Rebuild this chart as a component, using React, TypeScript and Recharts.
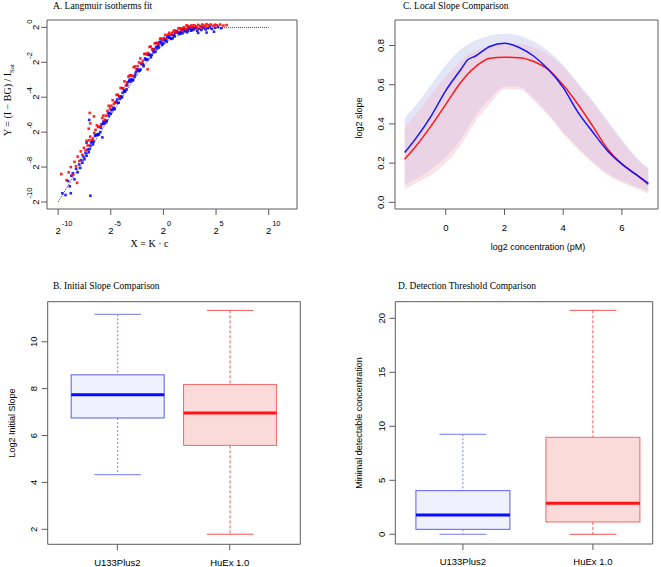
import React from 'react'
import {
  ScatterChart,
  Scatter,
  ComposedChart,
  Area,
  Line,
  Bar,
  XAxis,
  YAxis,
  ReferenceArea,
} from 'recharts'

const SANS = '"Liberation Sans", Arial, sans-serif'
const SERIF = '"Liberation Serif", "Times New Roman", serif'
const FRAME = '#5c5c5c'

// ---- A. Langmuir isotherms fit (log2 X, log2 Y) ----
const FIT_X = [-10, -9, -8, -7, -6, -5, -4, -3, -2, -1.5, -1, -0.5, 0, 0.5, 1, 1.5, 2, 2.5, 3, 4, 5, 6, 8, 10]
const FIT_Y = [-10, -9, -8.01, -7.01, -6.02, -5.04, -4.09, -3.17, -2.32, -1.94, -1.58, -1.27, -1, -0.77, -0.58, -0.44, -0.32, -0.24, -0.17, -0.09, -0.04, -0.02, -0.01, 0]

const BLUE_PTS: [number, number][] = [
  // lower tail
  [-9.6, -9.5], [-9.3, -9.6], [-9.05, -8.8], [-8.9, -9.1], [-8.75, -8.5], [-8.6, -8.35], [-8.45, -8.7],
  [-8.3, -8.1], [-8.15, -8.3], [-8.0, -7.85], [-7.9, -8.05], [-7.8, -7.6], [-7.7, -7.75], [-7.6, -7.4],
  [-7.5, -7.55], [-7.4, -7.2], [-7.3, -7.35], [-7.2, -7.0], [-7.1, -7.15], [-6.94, -9.64], [-7.05, -5.3],
  [-8.8, -9.5], [-7.3, -6.6], [-5.8, -6.3],
  // main band
  [-7, -6.96], [-6.75, -6.54], [-6.5, -6.21], [-6.25, -6.15], [-6, -6.0], [-5.75, -5.51], [-5.5, -5.36],
  [-5.25, -4.93], [-5, -4.95], [-4.75, -4.6], [-4.5, -4.26], [-4.25, -4.32], [-4, -3.95], [-3.75, -3.6],
  [-3.5, -3.55], [-3.25, -3.06], [-3, -2.98], [-2.75, -2.84], [-2.5, -2.45], [-2.25, -2.48], [-2, -2.09],
  [-1.75, -1.78], [-1.5, -1.84], [-1.25, -1.58], [-1, -1.3], [-0.75, -1.39], [-0.5, -1.06], [-0.25, -0.81],
  [0, -0.92], [0.25, -0.72], [0.5, -0.51], [0.75, -0.66], [1, -0.455], [1.25, -0.21], [1.5, -0.38],
  [1.75, -0.18], [2, -0.22], [2.25, -0.28], [2.5, -0.09], [2.75, -0.15], [3, -0.05],
  [-6.88, -6.59], [-6.63, -6.54], [-6.38, -6.15], [-6.13, -6.13], [-5.88, -5.56], [-5.63, -5.51],
  [-5.38, -5.35], [-5.13, -4.89], [-4.88, -4.73], [-4.63, -4.68], [-4.38, -4.13], [-4.13, -4.08],
  [-3.88, -3.75], [-3.63, -3.66], [-3.38, -3.14], [-3.13, -3.11], [-2.88, -3.02], [-2.63, -2.58],
  [-2.38, -2.5], [-2.13, -2.09], [-1.88, -2.22], [-1.63, -1.83], [-1.38, -1.56], [-1.13, -1.58],
  [-0.88, -1.26], [-0.63, -1.21], [-0.38, -0.85], [-0.13, -1.01], [0.12, -0.75], [0.37, -0.54],
  [0.62, -0.61], [0.87, -0.63], [1.12, -0.32], [1.37, -0.31], [1.62, -0.34], [1.87, -0.1], [2.12, -0.18],
  [2.37, -0.06], [2.62, -0.19], [2.87, -0.05],
  [-6.94, -6.77], [-6.69, -6.7], [-6.44, -6.18], [-6.19, -6.11], [-5.94, -5.75], [-5.69, -5.39],
  [-5.44, -5.43], [-5.19, -5.08], [-4.94, -4.73], [-4.69, -4.67], [-4.44, -4.31], [-4.19, -3.96],
  [-3.94, -4.01], [-3.69, -3.68], [-3.44, -3.32], [-3.19, -2.99], [-2.94, -3.02], [-2.69, -2.72],
  [-2.44, -2.41], [-2.19, -2.42], [-1.94, -2.13], [-1.69, -1.86], [-1.44, -1.58], [-1.19, -1.71],
  [-0.94, -1.43], [-0.69, -1.12], [-0.44, -1.15], [-0.19, -0.92], [0.06, -0.68], [0.31, -0.82],
  [0.56, -0.6], [0.81, -0.44], [1.06, -0.51], [1.31, -0.25], [1.56, -0.29], [1.81, -0.34], [2.06, -0.14],
  [2.31, -0.18], [2.56, -0.02], [2.81, -0.09],
  // upper tail
  [3.2, -0.2], [3.4, -0.08], [3.6, -0.15], [3.8, -0.03], [4.0, -0.12], [4.2, -0.05], [4.4, 0.01],
  [4.6, -0.09], [4.9, -0.02], [5.2, 0.02], [5.5, -0.05], [3.3, -0.32], [4.1, -0.3], [4.8, -0.25],
  [3.1, 0.0], [3.7, 0.02],
]

const RED_PTS: [number, number][] = [
  // lower tail
  [-9.7, -8.4], [-9.2, -8.75], [-9.0, -8.3], [-8.8, -8.0], [-8.6, -8.45], [-8.45, -7.7], [-8.3, -7.95],
  [-8.15, -7.4], [-8.0, -7.65], [-7.85, -7.1], [-7.7, -7.3], [-7.55, -6.9], [-7.4, -7.05], [-7.3, -6.5],
  [-7.0, -4.9], [-6.95, -5.5], [-7.1, -5.8], [-8.2, -8.9], [-1.5, -2.4], [-6.6, -5.1],
  // main band
  [-7.2, -6.76], [-6.95, -6.26], [-6.7, -6.37], [-6.45, -5.87], [-6.2, -5.7], [-5.95, -5.65], [-5.7, -5.05],
  [-5.45, -5.06], [-5.2, -4.49], [-4.95, -4.49], [-4.7, -4.37], [-4.45, -3.87], [-4.2, -3.98], [-3.95, -3.48],
  [-3.7, -3.09], [-3.45, -3.17], [-3.2, -2.75], [-2.95, -2.78], [-2.7, -2.24], [-2.45, -2.22], [-2.2, -1.78],
  [-1.95, -1.92], [-1.7, -1.51], [-1.45, -1.47], [-1.2, -1.1], [-0.95, -1.24], [-0.7, -0.89], [-0.45, -0.96],
  [-0.2, -0.64], [0.05, -0.61], [0.3, -0.64], [0.55, -0.31], [0.8, -0.35], [1.05, -0.17], [1.3, -0.24],
  [1.55, -0.05], [1.8, -0.07], [2.05, -0.09], [2.3, 0.08], [2.55, 0.04], [2.8, 0.01],
  [-7.07, -6.46], [-6.82, -6.45], [-6.57, -6.04], [-6.32, -5.61], [-6.07, -5.69], [-5.82, -5.19],
  [-5.57, -5.29], [-5.32, -4.78], [-5.07, -4.65], [-4.82, -4.17], [-4.57, -4.29], [-4.32, -3.86],
  [-4.07, -3.47], [-3.82, -3.49], [-3.57, -3.33], [-3.32, -2.82], [-3.07, -2.75], [-2.82, -2.28],
  [-2.57, -2.4], [-2.32, -2.01], [-2.07, -2.05], [-1.82, -1.53], [-1.57, -1.55], [-1.32, -1.12],
  [-1.07, -1.26], [-0.82, -0.92], [-0.57, -0.91], [-0.32, -0.65], [-0.07, -0.75], [0.18, -0.43],
  [0.43, -0.42], [0.68, -0.43], [0.93, -0.25], [1.18, -0.29], [1.43, -0.06], [1.68, -0.1], [1.93, 0.0],
  [2.18, 0.11], [2.43, 0.01], [2.68, 0.12], [2.93, 0.12],
  // upper tail
  [3.1, 0.05], [3.3, 0.14], [3.5, 0.08], [3.7, 0.16], [3.9, 0.1], [4.1, 0.18], [4.3, 0.12], [4.5, 0.16],
  [4.7, 0.09], [4.9, 0.15], [5.1, 0.12], [5.4, 0.16], [5.7, 0.1], [6.0, 0.13], [3.2, -0.05], [3.6, 0.0],
  [4.0, 0.03], [2.2, -0.12], [1.7, -0.2],
]

const A_XDOM: [number, number] = [-11.06, 12.69]
const A_YDOM: [number, number] = [-10.4, 0.42]
const A_XTICKS = [-10, -5, 0, 5, 10]
const A_YTICKS = [-10, -8, -6, -4, -2, 0]

// ---- C. Local Slope Comparison ----
const C_X = [-1.4, -1, -0.5, 0, 0.5, 0.75, 1, 1.5, 2, 2.5, 3, 3.5, 4, 4.5, 5, 5.5, 6, 6.5, 6.9]
const C_BLUE = [0.254, 0.33, 0.44, 0.57, 0.675, 0.727, 0.745, 0.795, 0.812, 0.79, 0.745, 0.677, 0.585, 0.46, 0.36, 0.265, 0.195, 0.14, 0.097]
const C_RED = [0.22, 0.29, 0.39, 0.5, 0.61, 0.655, 0.69, 0.735, 0.74, 0.738, 0.718, 0.676, 0.598, 0.5, 0.39, 0.275, 0.196, 0.14, 0.092]
const C_BLUE_HI = [0.43, 0.5, 0.6, 0.7, 0.78, 0.805, 0.825, 0.85, 0.86, 0.85, 0.82, 0.77, 0.7, 0.61, 0.52, 0.42, 0.32, 0.23, 0.175]
const C_BLUE_LO = [0.09, 0.12, 0.17, 0.23, 0.32, 0.38, 0.44, 0.53, 0.59, 0.59, 0.53, 0.45, 0.36, 0.28, 0.21, 0.15, 0.11, 0.08, 0.06]
const C_RED_HI = [0.38, 0.45, 0.55, 0.64, 0.72, 0.75, 0.77, 0.8, 0.81, 0.81, 0.79, 0.75, 0.69, 0.6, 0.51, 0.41, 0.31, 0.22, 0.17]
const C_RED_LO = [0.065, 0.1, 0.14, 0.2, 0.29, 0.35, 0.41, 0.5, 0.575, 0.575, 0.52, 0.44, 0.35, 0.27, 0.2, 0.14, 0.1, 0.07, 0.045]
const C_XDOM: [number, number] = [-1.73, 7.23]
const C_YDOM: [number, number] = [-0.034, 0.93]
const C_XTICKS = [0, 2, 4, 6]
const C_YTICKS = [0, 0.2, 0.4, 0.6, 0.8]

// ---- B / D box plots ----
const BOX_CATS = ['U133Plus2', 'HuEx 1.0']
const B_MIN = [4.33, 1.79]
const B_Q1 = [6.75, 5.58]
const B_MED = [7.74, 6.96]
const B_Q3 = [8.59, 8.18]
const B_MAX = [11.17, 11.34]
const D_MIN = [0, 0]
const D_Q1 = [0.46, 1.14]
const D_MED = [1.79, 2.87]
const D_Q3 = [4.04, 8.98]
const D_MAX = [9.26, 20.74]
const B_XDOM: [number, number] = [0.38, 2.628]
const B_YDOM: [number, number] = [1.36, 11.71]
const B_YTICKS = [2, 4, 6, 8, 10]
const D_XDOM: [number, number] = [0.48, 2.46]
const D_YDOM: [number, number] = [-0.9, 21.54]
const D_YTICKS = [0, 5, 10, 15, 20]

const BOX_STYLE = [
  { stroke: '#5b5bf5', fill: '#eef2fc', med: '#0a0aff', whisker: '#7a7af0', dash: '2 2' },
  { stroke: '#f06a6a', fill: '#fbdada', med: '#ff1414', whisker: '#f45555', dash: '3 2' },
]

function boxRows(min: number[], q1: number[], med: number[], q3: number[], max: number[]) {
  return BOX_CATS.map((name, i) => ({
    x: i + 1,
    i,
    name,
    min: min[i],
    q1: q1[i],
    med: med[i],
    q3: q3[i],
    max: max[i],
    range: [min[i], max[i]],
  }))
}

const B_ROWS = boxRows(B_MIN, B_Q1, B_MED, B_Q3, B_MAX)
const D_ROWS = boxRows(D_MIN, D_Q1, D_MED, D_Q3, D_MAX)
const C_ROWS = C_X.map((x, i) => ({
  x,
  blue: C_BLUE[i],
  red: C_RED[i],
  blueBand: [C_BLUE_LO[i], C_BLUE_HI[i]],
  redBand: [C_RED_LO[i], C_RED_HI[i]],
}))

function BoxShape(props: any) {
  const { x, y, width, height, payload } = props
  if (!payload) return null
  const st = BOX_STYLE[payload.i]
  const span = payload.max - payload.min
  const at = (v: number) => y + (height * (payload.max - v)) / span
  const cx = x + width / 2
  const cap = width / 4
  return (
    <g>
      <line x1={cx} x2={cx} y1={at(payload.max)} y2={at(payload.q3)} stroke={st.whisker} strokeDasharray={st.dash} />
      <line x1={cx} x2={cx} y1={at(payload.q1)} y2={at(payload.min)} stroke={st.whisker} strokeDasharray={st.dash} />
      <line x1={cx - cap} x2={cx + cap} y1={at(payload.max)} y2={at(payload.max)} stroke={st.whisker} />
      <line x1={cx - cap} x2={cx + cap} y1={at(payload.min)} y2={at(payload.min)} stroke={st.whisker} />
      <rect x={x} y={at(payload.q3)} width={width} height={at(payload.q1) - at(payload.q3)} fill={st.fill} stroke={st.stroke} />
      <line x1={x} x2={x + width} y1={at(payload.med)} y2={at(payload.med)} stroke={st.med} strokeWidth={3} />
    </g>
  )
}

function RotTick(props: any) {
  const { x, y, payload, dx = -3, fmt } = props
  return (
    <text
      transform={`translate(${x + dx},${y}) rotate(-90)`}
      textAnchor="middle"
      fontSize={9.5}
      fontFamily={SANS}
      fill="#000"
    >
      {fmt ? fmt(payload.value) : payload.value}
    </text>
  )
}

function Pow2XTick({ x, y, payload }: any) {
  return (
    <g fontFamily={SANS} fill="#000">
      <text x={x} y={y + 17} textAnchor="middle" fontSize={9.5}>2</text>
      <text x={x + 3.5} y={y + 9} fontSize={7.5}>{payload.value}</text>
    </g>
  )
}

function Pow2YTick({ x, y, payload }: any) {
  return (
    <g transform={`translate(${x},${y}) rotate(-90)`} fontFamily={SANS} fill="#000">
      <text x={0} y={0} textAnchor="middle" fontSize={9.5}>2</text>
      <text x={3.5} y={-7} fontSize={7.5}>{payload.value}</text>
    </g>
  )
}

const dotShape = (color: string) => (p: any) => (
  <rect x={p.cx - 1.3} y={p.cy - 1.3} width={2.6} height={2.6} fill={color} fillOpacity={0.85} />
)

const tickFont = { fontSize: 9.5, fill: '#000', fontFamily: SANS }

export default function App() {
  const fitPts = FIT_X.map((x, i) => ({ x, y: FIT_Y[i] }))
  const bluePts = BLUE_PTS.map(([x, y]) => ({ x, y }))
  const redPts = RED_PTS.map(([x, y]) => ({ x, y }))

  return (
    <div style={{ position: 'absolute', left: 0, top: 0, width: 661, height: 567, background: '#fff' }}>
      {/* A */}
      <div style={{ position: 'absolute', left: 0, top: 0 }}>
        <ScatterChart width={330} height={280} margin={{ top: 20, right: 33, bottom: 41, left: 0 }}>
          <XAxis
            type="number"
            dataKey="x"
            domain={A_XDOM}
            ticks={A_XTICKS}
            allowDataOverflow
            axisLine={false}
            tickSize={6}
            tickLine={{ stroke: FRAME }}
            height={30}
            tick={<Pow2XTick />}
          />
          <YAxis
            type="number"
            dataKey="y"
            domain={A_YDOM}
            ticks={A_YTICKS}
            allowDataOverflow
            axisLine={false}
            tickSize={6}
            tickLine={{ stroke: FRAME }}
            width={47}
            tick={<Pow2YTick />}
          />
          <ReferenceArea x1={A_XDOM[0]} x2={A_XDOM[1]} y1={A_YDOM[0]} y2={A_YDOM[1]} fill="none" stroke={FRAME} ifOverflow="visible" />
          <Scatter
            data={fitPts}
            line={{ stroke: '#444', strokeWidth: 1, strokeDasharray: '1 1' }}
            lineType="joint"
            shape={() => <g />}
            isAnimationActive={false}
          />
          <Scatter data={bluePts} shape={dotShape('#0000ff')} isAnimationActive={false} />
          <Scatter data={redPts} shape={dotShape('#ff0000')} isAnimationActive={false} />
        </ScatterChart>
      </div>

      {/* C */}
      <div style={{ position: 'absolute', left: 330, top: 0 }}>
        <ComposedChart width={331} height={280} data={C_ROWS} margin={{ top: 20, right: 3, bottom: 41, left: 0 }}>
          <XAxis
            type="number"
            dataKey="x"
            domain={C_XDOM}
            ticks={C_XTICKS}
            allowDataOverflow
            axisLine={false}
            tickSize={6}
            tickMargin={9}
            tickLine={{ stroke: FRAME }}
            height={30}
            tick={tickFont}
          />
          <YAxis
            type="number"
            domain={C_YDOM}
            ticks={C_YTICKS}
            allowDataOverflow
            axisLine={false}
            tickSize={6}
            tickLine={{ stroke: FRAME }}
            width={65}
            tick={<RotTick dx={-3} fmt={(v: number) => v.toFixed(1)} />}
          />
          <Area dataKey="blueBand" type="monotone" stroke="none" fill="#c6c6f0" fillOpacity={0.45} isAnimationActive={false} />
          <Area dataKey="redBand" type="monotone" stroke="none" fill="#eeb6c2" fillOpacity={0.38} isAnimationActive={false} />
          <Line dataKey="red" type="monotone" stroke="#ff1a1a" strokeWidth={1.5} dot={false} isAnimationActive={false} />
          <Line dataKey="blue" type="monotone" stroke="#1414ff" strokeWidth={1.5} dot={false} isAnimationActive={false} />
          <ReferenceArea x1={C_XDOM[0]} x2={C_XDOM[1]} y1={C_YDOM[0]} y2={C_YDOM[1]} fill="none" stroke={FRAME} ifOverflow="visible" />
        </ComposedChart>
      </div>

      {/* B */}
      <div style={{ position: 'absolute', left: 0, top: 280 }}>
        <ComposedChart width={330} height={287} data={B_ROWS} margin={{ top: 21.7, right: 29.7, bottom: 2.7, left: 0 }}>
          <XAxis
            type="number"
            dataKey="x"
            domain={B_XDOM}
            ticks={[1, 2]}
            allowDataOverflow
            axisLine={false}
            tickSize={6}
            tickMargin={9}
            tickLine={{ stroke: FRAME }}
            height={20}
            tick={tickFont}
            tickFormatter={(v: number) => BOX_CATS[v - 1]}
          />
          <YAxis
            type="number"
            domain={B_YDOM}
            ticks={B_YTICKS}
            allowDataOverflow
            axisLine={false}
            tickSize={6}
            tickLine={{ stroke: FRAME }}
            width={47.7}
            tick={<RotTick dx={-3} />}
          />
          <Bar dataKey="range" barSize={93} shape={<BoxShape />} isAnimationActive={false} />
          <ReferenceArea x1={B_XDOM[0]} x2={B_XDOM[1]} y1={B_YDOM[0]} y2={B_YDOM[1]} fill="none" stroke={FRAME} ifOverflow="visible" />
        </ComposedChart>
      </div>

      {/* D */}
      <div style={{ position: 'absolute', left: 330, top: 280 }}>
        <ComposedChart width={331} height={287} data={D_ROWS} margin={{ top: 21.7, right: 8.3, bottom: 3, left: 0 }}>
          <XAxis
            type="number"
            dataKey="x"
            domain={D_XDOM}
            ticks={[1, 2]}
            allowDataOverflow
            axisLine={false}
            tickSize={6}
            tickMargin={8}
            tickLine={{ stroke: FRAME }}
            height={20}
            tick={tickFont}
            tickFormatter={(v: number) => BOX_CATS[v - 1]}
          />
          <YAxis
            type="number"
            domain={D_YDOM}
            ticks={D_YTICKS}
            allowDataOverflow
            axisLine={false}
            tickSize={6}
            tickLine={{ stroke: FRAME }}
            width={65.3}
            tick={<RotTick dx={-2.5} />}
          />
          <Bar dataKey="range" barSize={94} shape={<BoxShape />} isAnimationActive={false} />
          <ReferenceArea x1={D_XDOM[0]} x2={D_XDOM[1]} y1={D_YDOM[0]} y2={D_YDOM[1]} fill="none" stroke={FRAME} ifOverflow="visible" />
        </ComposedChart>
      </div>

      {/* titles and axis labels */}
      <svg width={661} height={567} style={{ position: 'absolute', left: 0, top: 0, pointerEvents: 'none' }}>
        <g fontFamily={SERIF} fontSize={9.5} fill="#000">
          <text x={53} y={8.7}>A. Langmuir isotherms fit</text>
          <text x={403} y={8.7}>C. Local Slope Comparison</text>
          <text x={53} y={288.7}>B. Initial Slope Comparison</text>
          <text x={398} y={288.7}>D. Detection Threshold Comparison</text>
        </g>
        <g fontFamily={SERIF} fontSize={10} fill="#000">
          <text x={149.5} y={246.5} textAnchor="middle">X = K · c</text>
          <text transform="translate(11,100) rotate(-90)" textAnchor="middle">
            Y = (I − BG) / I<tspan dy={2.5} fontSize={7}>Sat</tspan>
          </text>
        </g>
        <g fontFamily={SANS} fontSize={9} fill="#000">
          <text x={538} y={250} textAnchor="middle">log2 concentration  (pM)</text>
          <text transform="translate(361.5,118) rotate(-90)" textAnchor="middle">log2 slope</text>
          <text transform="translate(14.5,423) rotate(-90)" textAnchor="middle">Log2 Initial Slope</text>
          <text transform="translate(362,423) rotate(-90)" textAnchor="middle">Minimal detectable concentration</text>
        </g>
      </svg>
    </div>
  )
}
